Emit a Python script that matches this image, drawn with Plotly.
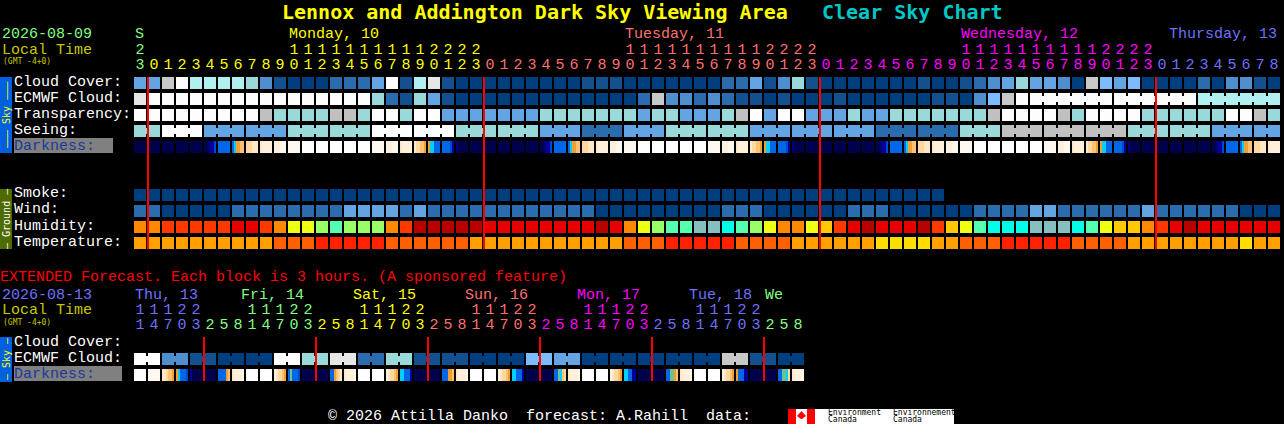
import plotly.graph_objects as go

W, H = 1284, 424
PITCH_X, PITCH_Y = 14, 16
ORIGIN_X, ORIGIN_Y = 134, 77
MONO = "Liberation Mono"
TITLE_FONT = "DejaVu Sans Mono"

# ---------- data ----------
cloud = list("EEIWHHHHGD" "BAAACCCEWB" "HJBAAAAAAA" "AABBBAAAAA" "AACCEBDGBA"
             "AAAAAABAAB" "CDEGEEDAIF" "EFAAAACADD" "BA")
ecmwf = list("JWWWWWWWWW" "WWWWWWWGCB" "GEBAAAAAAA" "AAAAAACIDD" "CDCBBABAAA"
             "BAAAAAABBA" "DFIWWWWWWW" "WWWWWWHHHH" "HH")
transparency = list("WWWWWWWWWK" "GGGGKKGWWG" "WWEEEEEEEG" "GGGGGGEGGE" "EEGKWEWWEE"
                    "EGEEGGGGGG" "GKWWWWKGWW" "WWGGGGGGWW" "KG")
seeing = list("GGWWWEEEEE" "EGGGGGGWWW" "WWWGGGGGGE" "EECCCEEEGG" "GGGGEEEEEE"
              "EEECCCCCCG" "GGKKKKKKKK" "KGGGGGGEEE" "EE")
smoke = list("AAAAAAAAAA" "AAAAAAAAAA" "AAAAAAAAAA" "AAAAAAAAAA" "AAAAAAAAAA" "AAAAAAAA")
wind = list("CCAAAAACCC" "CCCCCEEEEC" "ECCCCCCCCC" "CCCAAAAAAA" "AACCCAAAAA"
            "ACCCAAAAAA" "CCCCEECCCC" "CCECCCCCCA" "AA")
humidity = list("OORRRRRSSR" "OYYLMLLLOR" "TTTTTSSSSS" "SSSTSOYLMM" "GGCMLYOOYA"
                "RSTSSSTRAY" "MCCCGGGCMY" "AAORSTSSSS" "SS")
temperature = list("PPPPPPPPPP" "QQQSSSSSQQ" "QQQQPPPPPP" "PPPPPQQQSS" "SSSQQQQPPP"
                   "PPPZZZZPPQ" "QQSSSSSQQQ" "QPPPPPPPPZ" "PP")
darkness = ("NNNNNN NNNNNN NNNNNN NNNNNN NNNNNN NNabbc BBBBBB Byoopp qqqrrr rsssss sssttt tttttt "
            "WWWWWW WWWWWW WWWWWW WWWWWW WWWWWW tttttt sssttt rsssss rqqppo oyyBBB BBBBcb aNNNNN "
            "NNNNNN NNNNNN NNNNNN NNNNNN NNNNNN NNabbc BBBBBB Byoopp qqqrrr rsssss sssttt tttttt "
            "WWWWWW WWWWWW WWWWWW WWWWWW WWWWWW tttttt sssttt rsssss rqqppo oyyBBB BBBBcb aNNNNN "
            "NNNNNN NNNNNN NNNNNN NNNNNN NNNNNN NNabbc BBBBBB Byoopp qqqrrr rsssss sssttt tttttt "
            "WWWWWW WWWWWW WWWWWW WWWWWW WWWWWW tttttt sssttt rsssss rqqppo oyyBBB BBBBcb aNNNNN "
            "NNNNNN NNNNNN NNNNNN NNNNNN NNNNNN NNabbc BBBBBB Byoopp qqqrrr rsssss").split()

seeing_blocks = [2] + [3] * 26 + [2]
ecmwf_blocks = [1] * 64 + [6, 6, 6]

ext_ecmwf = list("WWDDBBAAAA" "WWGGJJCCGG" "BBBBAAAAFF" "EEAAAAAAAA" "AAIIBBAA")
ext_blocks = [2] * 24
ext_darkness = ("WWWWWW tttttt rrqppo oyBBBc bNNNNN NNNNNN BBBBop rsssst WWWWWW WWWWWW srqqpo BgBBBc "
                "NNNNNN NNNNNN BBopqr rsssst WWWWWW WWWWWW srqqpo yyBBBb NNNNNN NNNNNN BBBoop rsssst "
                "WWWWWW WWWWWW srqqpo yyBBBb NNNNNN NNNNNN BBgypq rsssst WWWWWW WWWWWW srqqpo yyBBbb "
                "NNNNNN NNNNNN BBggop rsssst WWWWWW WWWWWW srqqpo oBBBbb NNNNNN NNNNNN BBggyq rsssst").split()

hour_units = list("3" "0123456789" "0123456789" "0123" "0123456789" "0123456789" "0123"
                  "0123456789" "0123456789" "0123" "012345678")
hour_tens = list("2" + " " * 10 + "1" * 10 + "2" * 4 + " " * 10 + "1" * 10 + "2" * 4
                 + " " * 10 + "1" * 10 + "2" * 4 + " " * 9)
hour_day = list("S" + "M" * 24 + "T" * 24 + "D" * 24 + "H" * 9)

ext_units = list("14703258" * 6)
ext_tens = list("11122   " * 6)
ext_day = list("HHHHH" + "SSSSSSSS" + "MMMMMMMM" + "TTTTTTTT" + "DDDDDDDD" + "HHHHHHHH" + "SSS")

midnights = [1, 25, 49, 73]
ext_midnights = [5, 13, 21, 29, 37, 45]

day_labels = [(0, "S", "S"), (11, "Monday, 10", "M"), (35, "Tuesday, 11", "T"),
              (59, "Wednesday, 12", "D"), (73.86, "Thursday, 13", "H")]
ext_day_labels = [(0, "Thu, 13", "H"), (7.57, "Fri, 14", "S"), (15.57, "Sat, 15", "M"),
                  (23.57, "Sun, 16", "T"), (31.57, "Mon, 17", "D"), (39.57, "Tue, 18", "H"),
                  (45, "We", "S")]

# ---------- styles ----------
CLOUD = dict(A="#003f7f", B="#13508f", C="#2a6cad", D="#4f8fcf", E="#63a4e4", F="#7cbcfc",
             G="#99d9d9", H="#b0f0f0", I="#c8c8c8", J="#e6e6e6", K="#c0c0c0", W="#fdfdfd")
HUM = dict(O="#ff8800", R="#ff3800", S="#e60000", T="#b80000", Y="#eeff14", L="#99ff66",
           M="#55ffb0", G="#85bfbf", C="#00ffe8", A="#ffc800")
TEMP = dict(P="#ffa000", Q="#ff5f00", S="#ff2000", Z="#ffdd00")
DARK = dict(N="#00004d", a="#000070", b="#0000a0", c="#0048d0", B="#0068e8", y="#00d0ff",
            g="#70c090", o="#f0a030", p="#ffc070", q="#ffd8a0", r="#ffe8c8", s="#fff0dc",
            t="#fff8f0", W="#ffffff")
DAY = dict(S="#80ff80", M="#ffff00", T="#ff7070", D="#ff00ff", H="#7070ff")

# row positions, in row units of the y axis
ROWS = dict(cloud=0, ecmwf=1, transparency=2, seeing=3, darkness=4,
            smoke=7, wind=8, humidity=9, temperature=10,
            ext_ecmwf=17.25, ext_darkness=18.25)
CELL_W = 12 / 14
CELL_H = 12 / 16

fig = go.Figure()


def row_y(py):
    return (py - ORIGIN_Y) / PITCH_Y


def add_row(values, row, palette, blocks=None):
    cols = list(range(len(values)))
    fig.add_trace(go.Bar(x=[c + CELL_W / 2 for c in cols], y=[CELL_H] * len(cols),
                         base=[row] * len(cols), width=CELL_W,
                         marker=dict(color=[palette[v] for v in values], line_width=0),
                         hoverinfo="skip", showlegend=False))
    if blocks:
        xs, cs = [], []
        start = 0
        for n in blocks:
            for c in range(start, start + n - 1):
                xs.append(c + CELL_W + (1 - CELL_W) / 2)
                cs.append(palette[values[c]])
            start += n
        fig.add_trace(go.Bar(x=xs, y=[6 / 16] * len(xs), base=[row + 3 / 16] * len(xs),
                             width=(1 - CELL_W) + 0.01,
                             marker=dict(color=cs, line_width=0),
                             hoverinfo="skip", showlegend=False))


def add_dark(values, row):
    xs, cs = [], []
    for c, token in enumerate(values):
        step = CELL_W / len(token)
        for k, ch in enumerate(token):
            xs.append(c + (k + 0.5) * step)
            cs.append(DARK[ch])
    fig.add_trace(go.Bar(x=xs, y=[CELL_H] * len(xs), base=[row] * len(xs),
                         width=CELL_W / 6 + 0.003, marker=dict(color=cs, line_width=0),
                         hoverinfo="skip", showlegend=False))


def add_digits(text, py, day):
    fig.add_trace(go.Scatter(x=[c + CELL_W / 2 for c in range(len(text))], y=[row_y(py)] * len(text),
                             mode="text", text=text, textposition="middle center",
                             textfont=dict(family=MONO, size=15, color=[DAY[d] for d in day]),
                             hoverinfo="skip", showlegend=False, cliponaxis=False))


def add_midnights(cols, top, bottom):
    xs, ys = [], []
    for c in cols:
        xs += [c, c, None]
        ys += [top, bottom, None]
    fig.add_trace(go.Scatter(x=xs, y=ys, mode="lines", line=dict(color="#ff0000", width=2),
                             hoverinfo="skip", showlegend=False))


add_row(cloud, ROWS["cloud"], CLOUD)
add_row(ecmwf, ROWS["ecmwf"], CLOUD, ecmwf_blocks)
add_row(transparency, ROWS["transparency"], CLOUD)
add_row(seeing, ROWS["seeing"], CLOUD, seeing_blocks)
add_dark(darkness, ROWS["darkness"])
add_row(smoke, ROWS["smoke"], CLOUD)
add_row(wind, ROWS["wind"], CLOUD)
add_row(humidity, ROWS["humidity"], HUM)
add_row(temperature, ROWS["temperature"], TEMP)
add_row(ext_ecmwf, ROWS["ext_ecmwf"], CLOUD, ext_blocks)
add_dark(ext_darkness, ROWS["ext_darkness"])

add_midnights(midnights, row_y(77), row_y(249))
add_midnights(ext_midnights, row_y(337), row_y(381))

add_digits(hour_tens, 50, hour_day)
add_digits(hour_units, 65, hour_day)
add_digits(ext_tens, 310, ext_day)
add_digits(ext_units, 325, ext_day)

annotations = []
shapes = []


def note(x, y, text, color="#ffffff", size=15, bold=False, angle=0, anchor="left", family=MONO):
    annotations.append(dict(xref="paper", yref="paper", x=x / W, y=1 - y / H, text=text,
                            showarrow=False, xanchor=anchor, yanchor="middle",
                            textangle=angle, borderpad=0, borderwidth=0,
                            font=dict(family=family, size=size, color=color,
                                      weight="bold" if bold else "normal")))


def rect(x0, y0, x1, y1, color):
    shapes.append(dict(type="rect", xref="paper", yref="paper", x0=x0 / W, x1=x1 / W,
                       y0=1 - y0 / H, y1=1 - y1 / H, fillcolor=color, line_width=0, layer="below"))


note(282, 12, "Lennox and Addington Dark Sky Viewing Area", "#ffff00", 20, True, family=TITLE_FONT)
note(822, 12, "Clear Sky Chart", "#00c8c8", 20, True, family=TITLE_FONT)

note(2, 35, "2026-08-09", DAY["S"])
note(2, 50, "Local Time", "#c8c800")
note(3, 61, "(GMT -4+0)", "#c8c800", 8, family=TITLE_FONT)
for col, label, d in day_labels:
    note(ORIGIN_X + PITCH_X * col + 1, 35, label, DAY[d])

for y, label in [(82, "Cloud Cover:"), (98, "ECMWF Cloud:"), (114, "Transparency:"), (130, "Seeing:"),
                 (194, "Smoke:"), (210, "Wind:"), (226, "Humidity:"), (242, "Temperature:"),
                 (342, "Cloud Cover:"), (358, "ECMWF Cloud:")]:
    note(14, y, label)

rect(14, 138, 113, 153, "#808080")
note(14, 146, "Darkness:", "#1a3a9a")
rect(14, 366, 122, 381, "#808080")
note(14, 374, "Darkness:", "#1a3a9a")

rect(0, 77, 12, 153, "#0060e0")
note(6, 115, "––– Sky –––", "#ffff00", 10, angle=-90, anchor="center", family=TITLE_FONT)
rect(0, 189, 12, 249, "#4f6b00")
note(6, 219, "– Ground –", "#ffffff", 10, angle=-90, anchor="center", family=TITLE_FONT)
rect(0, 337, 12, 382, "#0060e0")
note(6, 359, "– Sky –", "#ffff00", 10, angle=-90, anchor="center", family=TITLE_FONT)

note(0, 277, "EXTENDED Forecast. Each block is 3 hours. (A sponsored feature)", "#ff0000")
note(2, 295, "2026-08-13", DAY["H"])
note(2, 310, "Local Time", "#c8c800")
note(3, 322, "(GMT -4+0)", "#c8c800", 8, family=TITLE_FONT)
for col, label, d in ext_day_labels:
    note(ORIGIN_X + PITCH_X * col + 1, 295, label, DAY[d])

note(328, 416, "© 2026 Attilla Danko  forecast: A.Rahill  data:")

# logo
rect(788, 409, 954, 424, "#ffffff")
rect(788, 409, 796, 424, "#ff0000")
rect(807, 409, 815, 424, "#ff0000")
shapes.append(dict(type="path", xref="paper", yref="paper", fillcolor="#ff0000", line_width=0,
                   path="M {} {} L {} {} L {} {} L {} {} L {} {} Z".format(
                       801.5 / W, 1 - 411 / H, 806 / W, 1 - 416 / H, 802 / W, 1 - 419 / H,
                       801 / W, 1 - 419 / H, 797 / W, 1 - 416 / H)))
for x, word in [(828, "Environment"), (893, "Environnement")]:
    note(x, 412.5, word, "#000000", 8, family=TITLE_FONT)
    note(x, 419.5, "Canada", "#000000", 8, family=TITLE_FONT)

fig.update_layout(
    width=W, height=H, margin=dict(l=0, r=0, t=0, b=0, pad=0),
    paper_bgcolor="#000000", plot_bgcolor="rgba(0,0,0,0)", showlegend=False,
    barmode="overlay", bargap=0,
    xaxis=dict(range=[-ORIGIN_X / PITCH_X, (W - ORIGIN_X) / PITCH_X], visible=False, fixedrange=True),
    yaxis=dict(range=[(H - ORIGIN_Y) / PITCH_Y, -ORIGIN_Y / PITCH_Y], visible=False, fixedrange=True),
    annotations=annotations, shapes=shapes,
)

fig.write_html("out.html", config=dict(displayModeBar=False),
               post_script="document.body.style.margin='0';document.body.style.background='#000';document.body.style.overflow='hidden';")
